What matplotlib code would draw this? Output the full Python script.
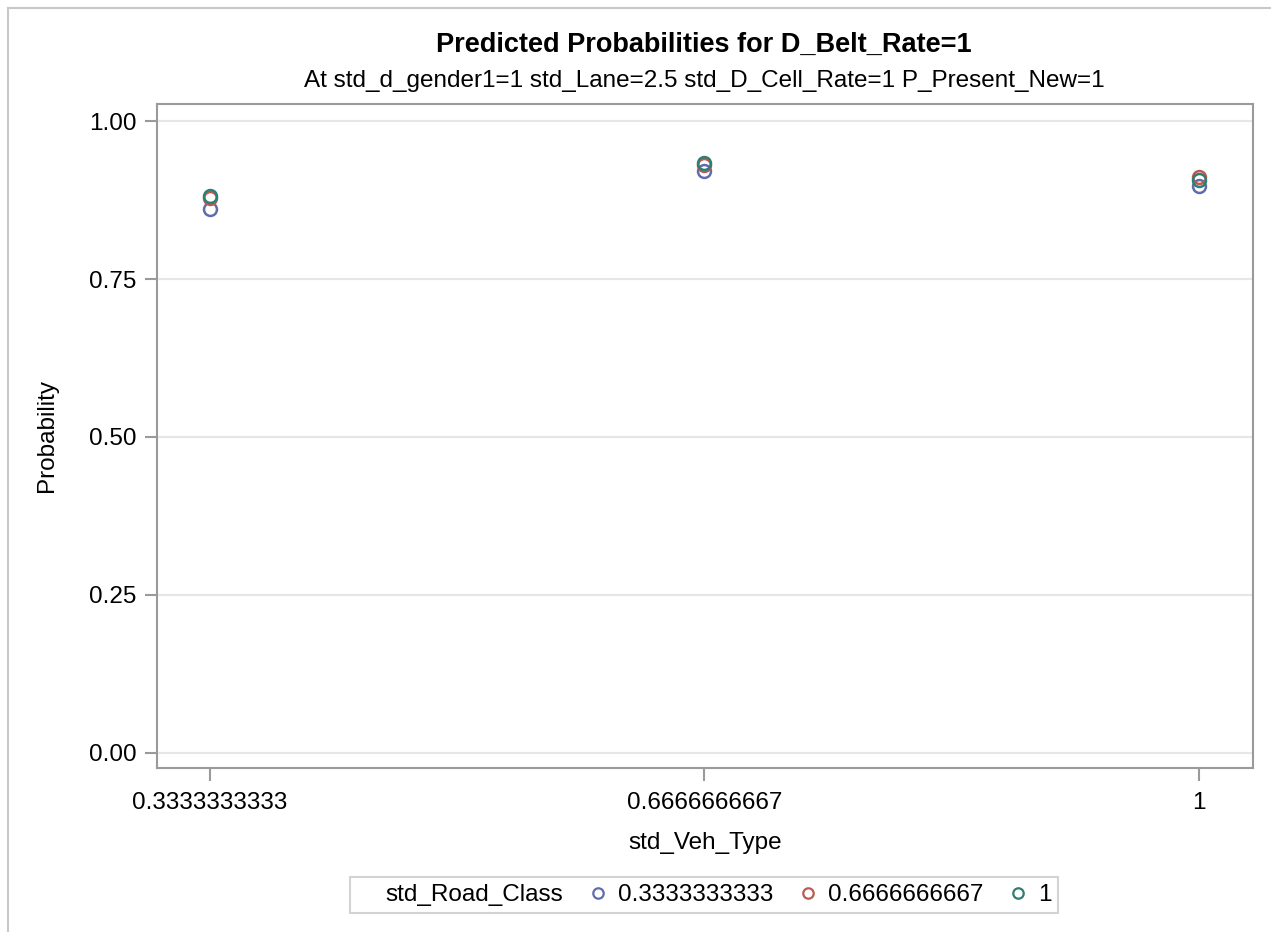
#!/usr/bin/env python3
"""Predicted probabilities for D_Belt_Rate=1 by std_Veh_Type and std_Road_Class."""

import matplotlib

matplotlib.use("Agg")
import matplotlib.pyplot as plt
from matplotlib.lines import Line2D

plt.rcParams.update({"font.family": ["Liberation Sans", "DejaVu Sans"]})

# ── Data ──────────────────────────────────────────────────────────────────────
VEH_TYPE = ["0.3333333333", "0.6666666667", "1"]
ROAD_CLASS = ["0.3333333333", "0.6666666667", "1"]
PROB_RC_033 = [0.861, 0.921, 0.897]
PROB_RC_067 = [0.879, 0.931, 0.911]
PROB_RC_1 = [0.882, 0.933, 0.907]
Y_TICKS = [0.00, 0.25, 0.50, 0.75, 1.00]

# ── Styling ───────────────────────────────────────────────────────────────────
BLUE = "#5F6DB0"
RED = "#BE5A50"
TEAL = "#2E7E74"
AXIS = "#9A9A9A"
GRID = "#E6E6E6"
FS = 17.5

W, H = 1271, 932
fig = plt.figure(figsize=(W / 100, H / 100), dpi=100)
fig.patch.set_facecolor("white")

# outer graph border (SAS style)
fig.add_artist(Line2D([8 / W, 8 / W], [0, 1 - 8 / H], color="#C8C8C8", lw=1.5))
fig.add_artist(Line2D([8 / W, 1], [1 - 8 / H, 1 - 8 / H], color="#C8C8C8", lw=1.5))

ax = fig.add_axes([157 / W, 164 / H, (1253 - 157) / W, (828 - 164) / H])

xs = range(len(VEH_TYPE))
series = [
    (ROAD_CLASS[0], PROB_RC_033, BLUE),
    (ROAD_CLASS[1], PROB_RC_067, RED),
    (ROAD_CLASS[2], PROB_RC_1, TEAL),
]
handles = [Line2D([], [], linestyle="none", marker="o", markersize=0,
                  label="std_Road_Class")]
for label, vals, color in series:
    ax.plot(xs, vals, linestyle="none", marker="o", markersize=9.3,
            markerfacecolor="none", markeredgecolor=color,
            markeredgewidth=1.8, label=label, zorder=3)
    handles.append(Line2D([], [], linestyle="none", marker="o", markersize=7.5,
                          markerfacecolor="none", markeredgecolor=color,
                          markeredgewidth=1.6, label=label))

ax.set_xlim(-0.107, 2.11)
ax.set_ylim(-0.024, 1.027)
ax.set_xticks(list(xs))
ax.set_xticklabels(VEH_TYPE, fontsize=FS)
ax.set_yticks(Y_TICKS)
ax.set_yticklabels([f"{v:.2f}" for v in Y_TICKS], fontsize=FS)
ax.yaxis.grid(True, color=GRID, lw=1.5, zorder=0)
ax.set_axisbelow(True)
for sp in ax.spines.values():
    sp.set_color(AXIS)
    sp.set_linewidth(1.5)
ax.tick_params(axis="both", colors=AXIS, length=9, width=1.5, labelcolor="black")
ax.tick_params(axis="x", pad=8)
ax.tick_params(axis="y", pad=6)

ax.set_xlabel("std_Veh_Type", fontsize=FS, labelpad=13)
ax.set_ylabel("Probability", fontsize=FS, labelpad=22)

fig.text(0.554, 1 - 45 / H, "Predicted Probabilities for D_Belt_Rate=1",
         ha="center", va="center", fontsize=19.5, fontweight="bold")
fig.text(0.554, 1 - 81 / H,
         "At std_d_gender1=1 std_Lane=2.5 std_D_Cell_Rate=1 P_Present_New=1",
         ha="center", va="center", fontsize=FS)

leg = fig.legend(handles=handles, loc="center", bbox_to_anchor=(0.554, 1 - 895 / H),
                 ncol=4, frameon=True, fontsize=FS, handlelength=0.7,
                 handletextpad=0.45, columnspacing=1.1, borderpad=0.3,
                 borderaxespad=0, fancybox=False)
leg.get_frame().set_edgecolor("#C8C8C8")
leg.get_frame().set_linewidth(1.5)

fig.savefig("out.png", dpi=100, facecolor="white")
plt.close(fig)
